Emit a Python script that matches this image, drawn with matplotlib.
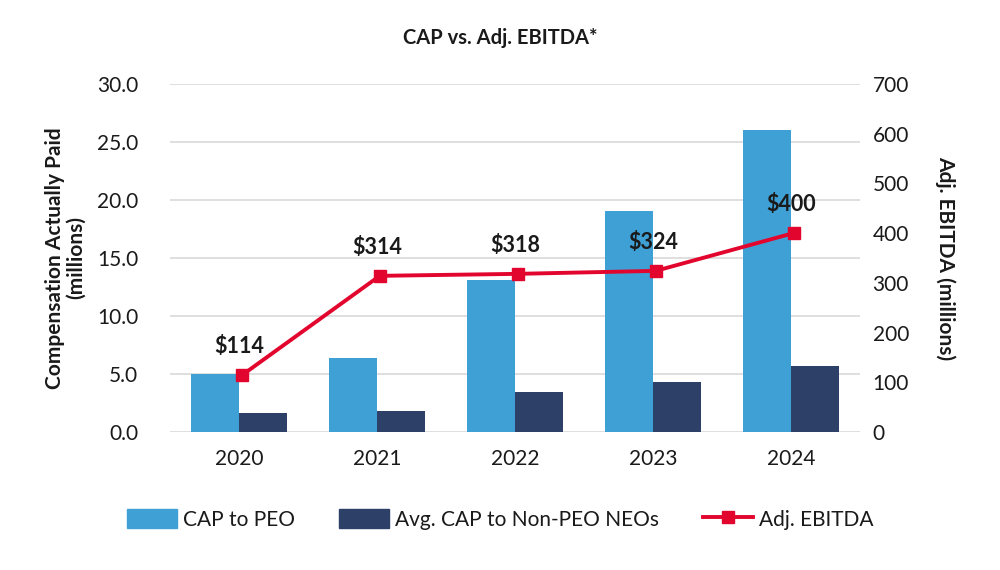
import numpy as np
import matplotlib
matplotlib.use('Agg')
from matplotlib import pyplot as plt
from matplotlib.lines import Line2D
from matplotlib.patches import Patch

plt.rcParams['font.family'] = ['Lato', 'DejaVu Sans']

years = ['2020', '2021', '2022', '2023', '2024']
cap_peo = [5.0, 6.4, 13.1, 19.0, 26.0]
cap_neo = [1.6, 1.8, 3.45, 4.3, 5.7]
ebitda = [114, 314, 318, 324, 400]
ebitda_labels = ['$114', '$314', '$318', '$324', '$400']

c_peo = '#3FA0D5'
c_neo = '#2D4168'
c_line = '#E2062E'
txt = '#1a1a1a'

fig = plt.figure(figsize=(10, 5.7), dpi=100)
ax = fig.add_axes([0.17, 0.242, 0.69, 0.611])
ax2 = ax.twinx()

x = np.arange(len(years))
w = 0.35
ax.bar(x - w / 2, cap_peo, w, color=c_peo, zorder=2)
ax.bar(x + w / 2, cap_neo, w, color=c_neo, zorder=2)

ax.set_xlim(-0.5, 4.5)
ax.set_ylim(0, 30)
ax.set_yticks(np.arange(0, 31, 5))
ax.set_yticklabels(['%.1f' % v for v in np.arange(0, 31, 5)])
ax.set_xticks(x)
ax.set_xticklabels(years)
ax.grid(axis='y', color='#d9d9d9', linewidth=1.2, zorder=0)
ax.set_axisbelow(True)

ax2.plot(x + 0.02, ebitda, color=c_line, lw=2.8, marker='s', ms=9, zorder=3)
ax2.set_ylim(0, 700)
ax2.set_yticks(np.arange(0, 701, 100))
for xi, v, lab in zip(x, ebitda, ebitda_labels):
    ax2.annotate(lab, (xi, v), xytext=(0, 13), textcoords='offset points',
                 ha='center', va='bottom', fontsize=15.5, fontweight='bold', color=txt)

for a in (ax, ax2):
    for s in a.spines.values():
        s.set_visible(False)
    a.tick_params(length=0, labelsize=15, colors=txt)
ax.tick_params(axis='y', pad=23)
ax.tick_params(axis='x', pad=12)
ax2.tick_params(axis='y', pad=9)

ax.set_ylabel('Compensation Actually Paid\n(millions)', fontsize=15,
              fontweight='bold', color=txt, linespacing=1.05, labelpad=8)
ax2.set_ylabel('Adj. EBITDA (millions)', fontsize=15, fontweight='bold',
               color=txt, rotation=270, labelpad=34)

fig.text(0.5, 0.933, 'CAP vs. Adj. EBITDA*', ha='center', va='center',
         fontsize=14.5, fontweight='bold', color=txt)

handles = [Patch(color=c_peo), Patch(color=c_neo),
           Line2D([0], [0], color=c_line, lw=2.8, marker='s', ms=8)]
fig.legend(handles, ['CAP to PEO', 'Avg. CAP to Non-PEO NEOs', 'Adj. EBITDA'],
           loc='center', bbox_to_anchor=(0.5, 0.089), ncol=3, frameon=False,
           fontsize=15, handlelength=2.4, handleheight=1.06, columnspacing=2.1,
           handletextpad=0.3, labelcolor=txt)

fig.savefig('out.png', dpi=100, facecolor='white')
